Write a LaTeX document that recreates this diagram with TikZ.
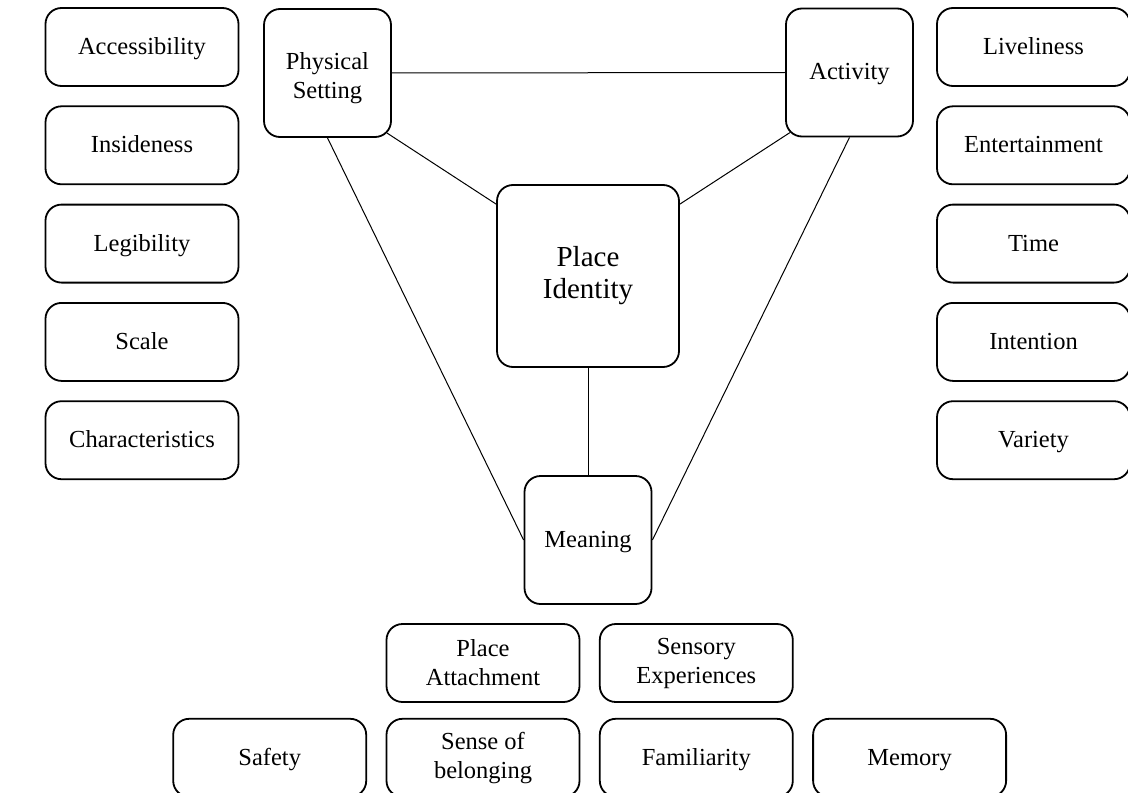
\documentclass[tikz,border=0pt]{standalone}
\usepackage{fontspec}
\setmainfont{Liberation Serif}
\usepackage{tikz}
\usetikzlibrary{positioning, calc}

\begin{document}
\begin{tikzpicture}[
    x=0.5pt, y=-0.5pt,
    node distance=9.25pt,
    factor/.style={rectangle, draw=black, line width=0.9pt, rounded corners=8pt, minimum width=96.5pt, minimum height=39pt, align=center, inner sep=2pt, font=\fontsize{12.25}{14.5}\selectfont},
    oneline/.style={text height=9.5pt, text depth=2pt},
    pillar/.style={factor, minimum width=63.5pt, minimum height=64pt},
    core/.style={factor, minimum width=91pt, minimum height=91pt, font=\fontsize{14.5}{16}\selectfont},
    link/.style={line width=0.5pt, black}
]
\useasboundingbox (0,0) rectangle (1128,792);

% the three pillars and the core
\node[pillar] (phys) at (327.5,73) {\rule{0pt}{13.5pt}Physical\\Setting};
\node[pillar, oneline] (act) at (849.5,72.5) {Activity};
\node[core] (pid) at (588,276) {Place\\Identity};
\node[pillar, oneline] (mean) at (588,540) {Meaning};

% physical setting factors
\node[factor, oneline] (acc) at (142,47) {Accessibility};
\node[factor, oneline, below=of acc] (ins) {Insideness};
\node[factor, oneline, below=of ins] (leg) {Legibility};
\node[factor, oneline, below=of leg] (scl) {Scale};
\node[factor, oneline, below=of scl] (chr) {Characteristics};

% activity factors
\node[factor, oneline] (liv) at (1033.5,47) {Liveliness};
\node[factor, oneline, below=of liv] (ent) {Entertainment};
\node[factor, oneline, below=of ent] (tim) {Time};
\node[factor, oneline, below=of tim] (itn) {Intention};
\node[factor, oneline, below=of itn] (var) {Variety};

% meaning factors
\node[factor] (patt) at (483,663) {Place\\Attachment};
\node[factor, right=of patt] (sens) {Sensory\\Experiences};
\node[factor, below=7.5pt of patt] (belo) {Sense of\\belonging};
\node[factor, oneline, left=of belo] (safe) {Safety};
\node[factor, oneline, right=of belo] (fami) {Familiarity};
\node[factor, oneline, right=of fami] (memo) {Memory};

\draw[link] (phys.east) -- (act.west);
\draw[link] ([shift={(-2.4pt,2.4pt)}]phys.south east) -- ([yshift=-10pt]pid.north west);
\draw[link] ([shift={(2.4pt,2.4pt)}]act.south west) -- ([yshift=-10pt]pid.north east);
\draw[link] (phys.south) -- (mean.west);
\draw[link] (act.south) -- (mean.east);
\draw[link] (pid.south) -- (mean.north);

\end{tikzpicture}
\end{document}
